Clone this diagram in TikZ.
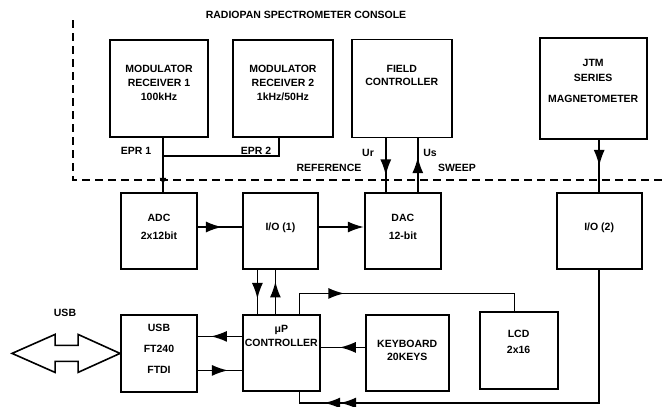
\documentclass[tikz,border=0pt]{standalone}
\usepackage{fontspec}
\setmainfont{Liberation Sans}
\usetikzlibrary{arrows.meta,positioning,decorations.markings}

\begin{document}
\begin{tikzpicture}[
x=1pt, y=-1pt,
font=\fontsize{10.5}{13}\selectfont\bfseries,
line width=1.6pt,
box/.style={draw, line width=1.9pt, align=center, inner sep=2pt},
tag/.style={inner sep=1pt},
tip/.style={-{Latex[length=16pt,width=11pt]}},
midtip/.style={postaction={decorate}, decoration={markings, mark=at position #1 with {\arrow{Latex[length=16pt,width=11pt]}}}},
smalltip/.style={postaction={decorate}, decoration={markings, mark=at position #1 with {\arrow{Latex[length=7pt,width=7pt]}}}},
twotips/.style={postaction={decorate}, decoration={markings,
  mark=at position 392pt with {\arrow{Latex[length=16pt,width=11pt]}},
  mark=at position 408pt with {\arrow{Latex[length=16pt,width=11pt]}}}},
border/.style={line width=1.6pt, dash pattern=on 8pt off 5pt}
]
\useasboundingbox (0,0) rectangle (667,407);

% console row
\node[box, minimum width=98pt, minimum height=97pt, text depth=11pt] (mod1) at (159,88.5) {MODULATOR\\[1pt]RECEIVER 1\\[1pt]100kHz};
\node[box, minimum width=100pt, minimum height=97pt, text depth=11pt, right=23pt of mod1] (mod2) {MODULATOR\\[1pt]RECEIVER 2\\[1pt]1kHz/50Hz};
\node[box, minimum width=100pt, minimum height=98pt, text depth=26pt, right=17pt of mod2] (field) {FIELD\\CONTROLLER};
\node[box, minimum width=107pt, minimum height=101pt, text depth=15pt, right=86pt of field] (jtm) {JTM\\[2pt]SERIES\\[8pt]MAGNETOMETER};

% converter row
\node[box, minimum width=76pt, minimum height=76pt, text depth=9pt] (adc) at (159,231) {ADC\\[5pt]2x12bit};
\node[box, minimum width=75pt, minimum height=76pt, text depth=9pt, right=44pt of adc] (io1) {I/O (1)};
\node[box, minimum width=76pt, minimum height=76pt, text depth=9pt, right=45pt of io1] (dac) {DAC\\[5pt]12-bit};
\node[box, minimum width=85pt, minimum height=76pt, text depth=9pt, right=114pt of dac] (io2) {I/O (2)};

% controller row
\node[box, minimum width=76pt, minimum height=77pt, text depth=10pt, below=44pt of adc] (usb) {USB\\[8pt]FT240\\[8pt]FTDI};
\node[box, minimum width=76pt, minimum height=76pt, text depth=35pt, right=44pt of usb] (mcu) {μP\\[1pt]CONTROLLER};
\node[box, minimum width=83pt, minimum height=76pt, text depth=7pt, right=44pt of mcu] (kbd) {KEYBOARD\\20KEYS};
\node[box, minimum width=78pt, minimum height=77pt, text depth=19pt, right=29pt of kbd, yshift=2.5pt] (lcd) {LCD\\[3pt]2x16};

% labels
\node[tag] (title) at (306,15) {RADIOPAN SPECTROMETER CONSOLE};
\node[tag] (epr1) at (136,151) {EPR 1};
\node[tag] (epr2) at (256,151) {EPR 2};
\node[tag] (ref) at (329,168) {REFERENCE};
\node[tag] (sweep) at (457,168) {SWEEP};
\node[tag] (ur) at (368,153) {Ur};
\node[tag] (us) at (430,153) {Us};
\node[tag] (usblbl) at (65,313) {USB};

% console border
\draw[border] (73,20) -- (73,180) -- (667,180);

% connectors
\draw[smalltip=47pt] ([xshift=4pt]mod1.south) -- ([xshift=4pt]adc.north);
\draw ([xshift=-4pt]mod2.south) |- ([xshift=4pt,yshift=-18pt]mod1.south);
\draw[midtip=37pt] ([xshift=-16pt]field.south) -- ([xshift=-16pt]field.south |- dac.north);
\draw[midtip=35pt] ([xshift=16pt]field.south |- dac.north) -- ([xshift=16pt]field.south);
\draw[midtip=26pt] (io2.north |- jtm.south) -- (io2.north);
\draw[midtip=24pt] ([yshift=4pt]adc.east) -- ([yshift=4pt]io1.west);
\draw[tip] ([yshift=4pt]io1.east) -- ([yshift=4pt]dac.west);
\draw[midtip=29pt] ([xshift=-23pt]io1.south) -- ([xshift=-23pt]io1.south |- mcu.north);
\draw[midtip=33pt] ([xshift=-5pt]io1.south |- mcu.north) -- ([xshift=-5pt]io1.south);
\draw[midtip=66pt] ([xshift=18pt]mcu.north) -- ++(0,-21) -| ([xshift=-4pt]lcd.north);
\draw[midtip=25pt] ([yshift=6pt]kbd.west) -- ([yshift=6pt]kbd.west -| mcu.east);
\draw[midtip=31pt] ([yshift=17pt]mcu.west) -- ([yshift=17pt]mcu.west -| usb.east);
\draw[midtip=30pt] ([yshift=-17pt]mcu.west -| usb.east) -- ([yshift=-17pt]mcu.west);
\draw[twotips] (io2.south) -- ++(0,133) -| ([xshift=18pt]mcu.south);

% usb port arrow
\draw (usb.west) -- ++(-42,-19) -- ++(0,11) -- ++(-23,0) -- ++(0,-11) -- ++(-43,19)
  -- ++(43,19) -- ++(0,-11) -- ++(23,0) -- ++(0,11) -- cycle;
\end{tikzpicture}
\end{document}
